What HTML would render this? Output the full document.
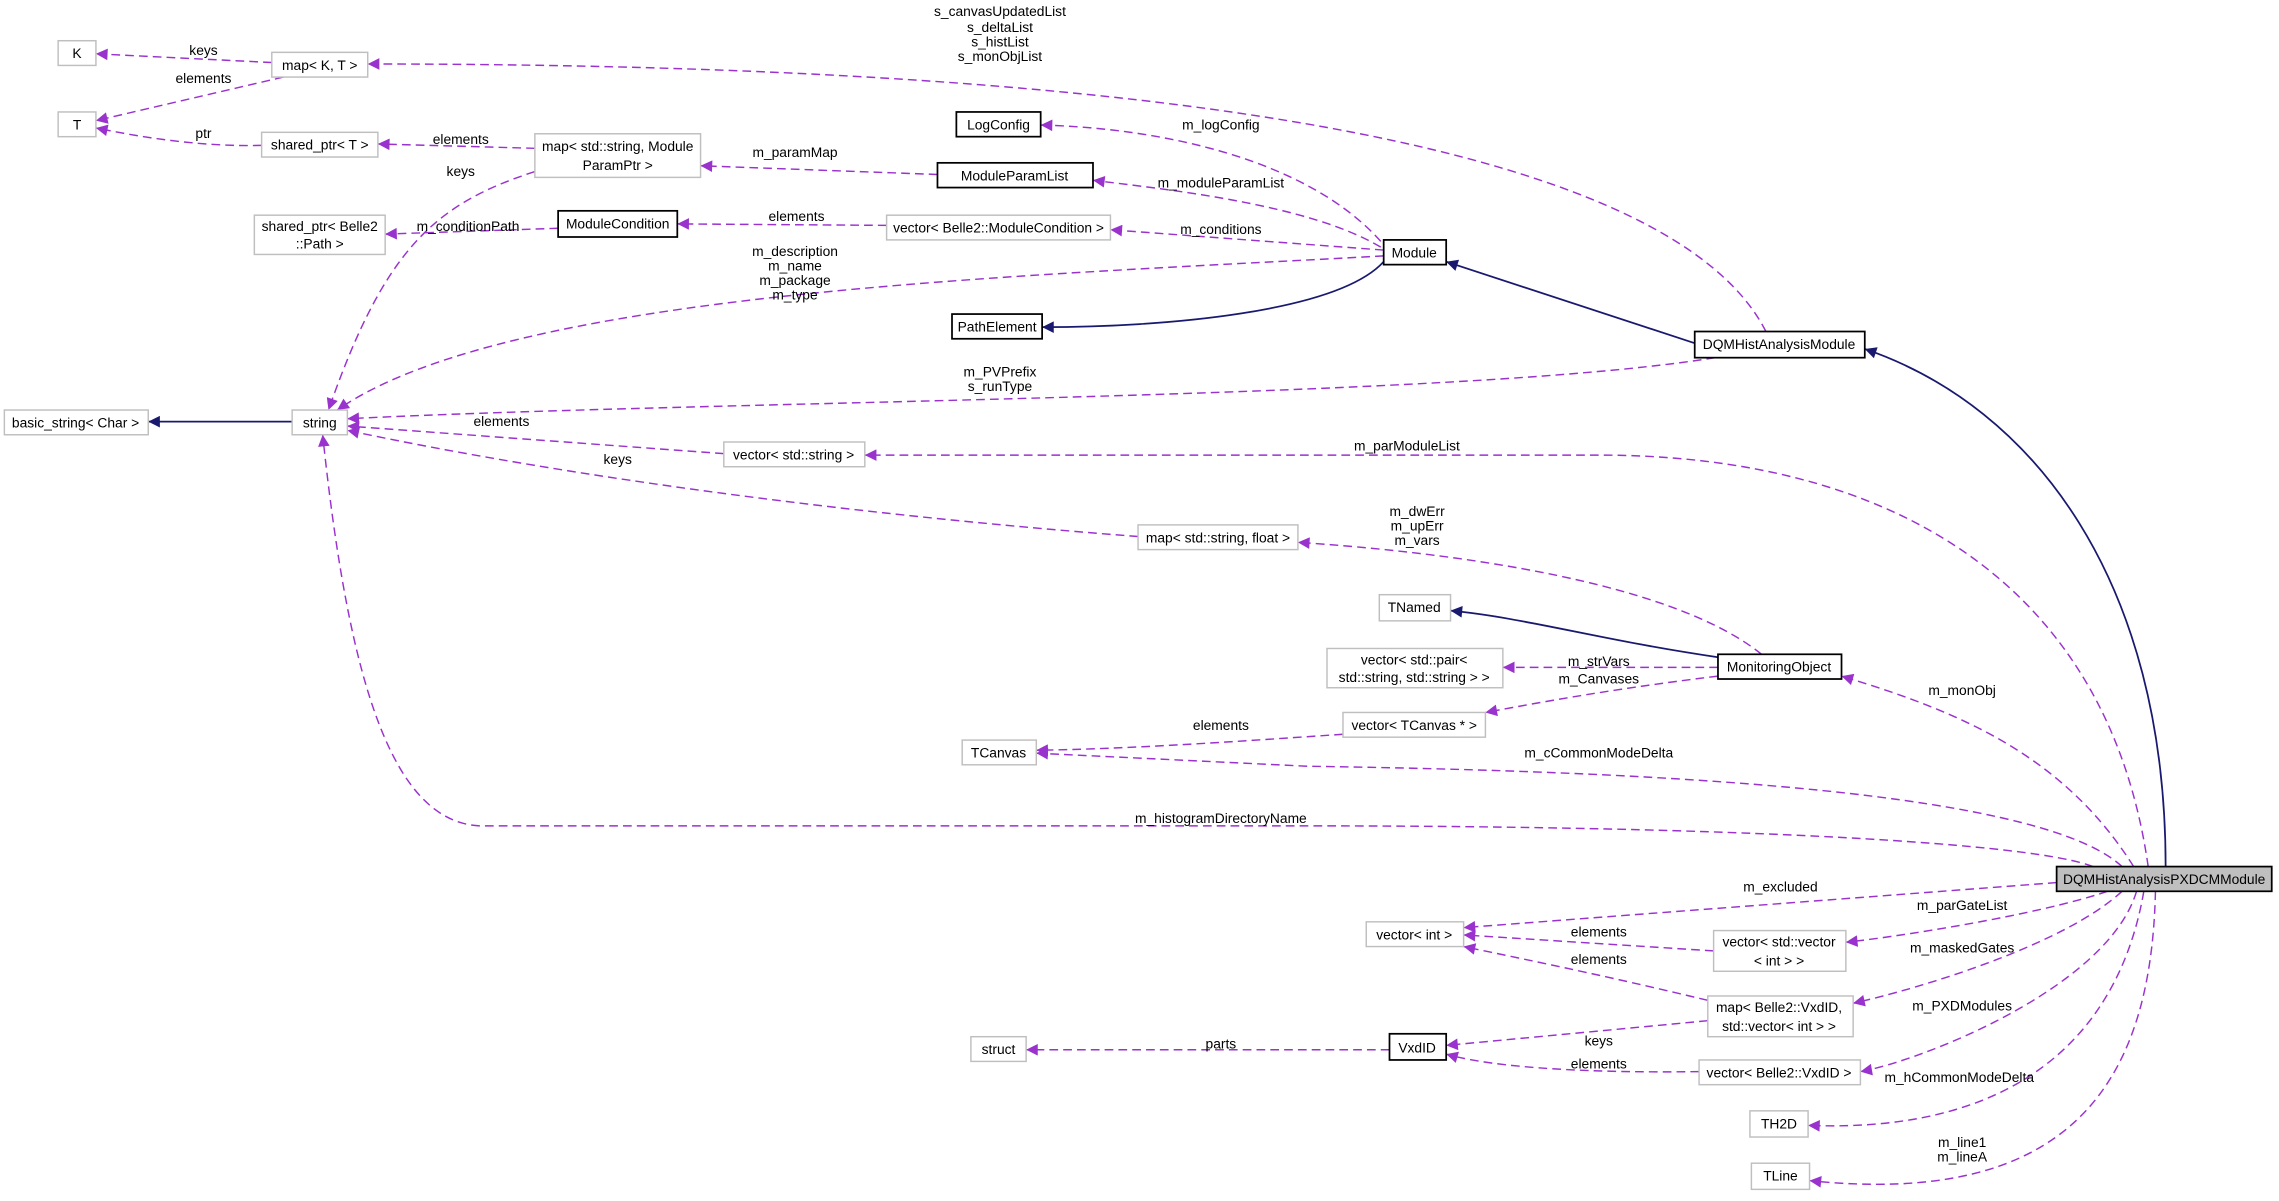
<!DOCTYPE html>
<html><head><meta charset="utf-8"><style>html,body{margin:0;padding:0;background:#fff}svg{display:block}</style></head>
<body>
<svg width="2279" height="1201" viewBox="0 0 1568 826" preserveAspectRatio="none" xmlns="http://www.w3.org/2000/svg" font-family="Liberation Sans, Helvetica, sans-serif" font-size="9.5">
<defs>
<marker id="p" viewBox="0 0 10 10" refX="10" refY="5" markerWidth="9" markerHeight="8" markerUnits="userSpaceOnUse" orient="auto"><path d="M0,0L10,5L0,10z" fill="#9a32cd"/></marker>
<marker id="n" viewBox="0 0 10 10" refX="10" refY="5" markerWidth="9" markerHeight="8" markerUnits="userSpaceOnUse" orient="auto"><path d="M0,0L10,5L0,10z" fill="#191970"/></marker>
</defs>
<g fill="none" stroke="#9a32cd" stroke-width="1" stroke-dasharray="6,3.5" marker-end="url(#p)">
<path d="M187,43 L66,37"/>
<path d="M195,53 L66,83"/>
<path d="M180,100 C140,101 100,95 66,88"/>
<path d="M368,102 L260,99"/>
<path d="M645,120 L482,114"/>
<path d="M1215,228 C1150,100 800,44 253,44"/>
<path d="M950,166 C900,110 800,88 716,86"/>
<path d="M950,170 C900,140 800,130 752,124"/>
<path d="M952,172 L764,158"/>
<path d="M610,155 L466,154"/>
<path d="M384,157 L265,161"/>
<path d="M368,118 C300,140 265,170 226,282"/>
<path d="M952,176 C700,190 350,200 232,282"/>
<path d="M1180,246 C1000,275 500,275 239,288"/>
<path d="M498,312 L239,293"/>
<path d="M783,369 C600,355 400,330 239,296"/>
<path d="M1478,596 C1450,400 1300,313 1100,313 L595,313"/>
<path d="M1212,450 C1150,400 1000,380 893,373"/>
<path d="M1182,459 L1034,459"/>
<path d="M1182,465 C1100,475 1050,485 1022,490"/>
<path d="M924,505 C850,510 780,515 713,516"/>
<path d="M1468,596 C1420,520 1350,490 1267,465"/>
<path d="M1460,596 C1400,540 1100,530 900,527 L713,518"/>
<path d="M1440,596 C1400,580 1200,568 900,568 L330,568 C270,565 240,470 222,299"/>
<path d="M1415,607 L1007,638"/>
<path d="M1450,613 C1400,630 1300,645 1270,648"/>
<path d="M1460,613 C1420,650 1320,680 1275,690"/>
<path d="M1470,613 C1450,680 1320,730 1280,737"/>
<path d="M1475,613 C1460,700 1400,780 1244,774"/>
<path d="M1483,613 C1480,750 1420,830 1245,812"/>
<path d="M1179,654 L1007,643"/>
<path d="M1175,688 C1100,670 1050,660 1007,651"/>
<path d="M1175,702 L995,719"/>
<path d="M1169,737 C1100,738 1030,735 995,725"/>
<path d="M956,722 L706,722"/>
</g>
<g fill="none" stroke="#191970" stroke-width="1.2" marker-end="url(#n)">
<path d="M1166,236 L995,180"/>
<path d="M952,180 C920,215 800,225 717,225"/>
<path d="M1490,596 C1490,400 1400,280 1283,240"/>
<path d="M201,290 L102,290"/>
<path d="M1182,452 C1100,440 1050,425 998,420"/>
</g>
<g fill="#fff" stroke="#bfbfbf" stroke-width="1">
<rect x="40" y="28" width="26" height="17"/>
<rect x="187" y="36" width="66" height="17"/>
<rect x="40" y="77" width="26" height="17"/>
<rect x="180" y="91" width="80" height="17"/>
<rect x="368" y="92" width="114" height="30"/>
<rect x="175" y="148" width="90" height="27"/>
<rect x="610" y="148" width="154" height="17"/>
<rect x="3" y="282" width="99" height="17"/>
<rect x="201" y="282" width="38" height="17"/>
<rect x="498" y="304" width="97" height="17"/>
<rect x="783" y="361" width="110" height="17"/>
<rect x="949" y="409" width="49" height="18"/>
<rect x="913" y="446" width="121" height="27"/>
<rect x="924" y="490" width="98" height="17"/>
<rect x="662" y="509" width="51" height="17"/>
<rect x="940" y="634" width="67" height="17"/>
<rect x="1179" y="640" width="91" height="28"/>
<rect x="1175" y="685" width="100" height="28"/>
<rect x="668" y="713" width="38" height="17"/>
<rect x="1169" y="729" width="111" height="17"/>
<rect x="1204" y="764" width="40" height="18"/>
<rect x="1205" y="800" width="40" height="18"/>
</g>
<g fill="#fff" stroke="#000" stroke-width="1.2">
<rect x="658" y="77" width="58" height="17"/>
<rect x="645" y="112" width="107" height="17"/>
<rect x="384" y="145" width="82" height="18"/>
<rect x="952" y="165" width="43" height="17"/>
<rect x="655" y="216" width="62" height="17"/>
<rect x="1166" y="228" width="117" height="18"/>
<rect x="1182" y="450" width="85" height="17"/>
<rect x="956" y="711" width="39" height="18"/>
<rect x="1415" y="596" width="148" height="17" fill="#bfbfbf"/>
</g>
<g fill="#000" text-anchor="middle">
<text x="53" y="40">K</text>
<text x="220" y="48">map&lt; K, T &gt;</text>
<text x="53" y="89">T</text>
<text x="220" y="103">shared_ptr&lt; T &gt;</text>
<text x="425" y="104">map&lt; std::string, Module</text>
<text x="425" y="117">ParamPtr &gt;</text>
<text x="687" y="89">LogConfig</text>
<text x="698" y="124">ModuleParamList</text>
<text x="425" y="157">ModuleCondition</text>
<text x="220" y="159">shared_ptr&lt; Belle2</text>
<text x="220" y="171">::Path &gt;</text>
<text x="687" y="160">vector&lt; Belle2::ModuleCondition &gt;</text>
<text x="973" y="177">Module</text>
<text x="686" y="228">PathElement</text>
<text x="1224" y="240">DQMHistAnalysisModule</text>
<text x="52" y="294">basic_string&lt; Char &gt;</text>
<text x="220" y="294">string</text>
<text x="546" y="316">vector&lt; std::string &gt;</text>
<text x="838" y="373">map&lt; std::string, float &gt;</text>
<text x="973" y="421">TNamed</text>
<text x="973" y="457">vector&lt; std::pair&lt;</text>
<text x="973" y="469">std::string, std::string &gt; &gt;</text>
<text x="1224" y="462">MonitoringObject</text>
<text x="973" y="502">vector&lt; TCanvas * &gt;</text>
<text x="687" y="521">TCanvas</text>
<text x="1489" y="608">DQMHistAnalysisPXDCMModule</text>
<text x="973" y="646">vector&lt; int &gt;</text>
<text x="1224" y="651">vector&lt; std::vector</text>
<text x="1224" y="664">&lt; int &gt; &gt;</text>
<text x="1224" y="696">map&lt; Belle2::VxdID,</text>
<text x="1224" y="709">std::vector&lt; int &gt; &gt;</text>
<text x="687" y="725">struct</text>
<text x="975" y="724">VxdID</text>
<text x="1224" y="741">vector&lt; Belle2::VxdID &gt;</text>
<text x="1224" y="776">TH2D</text>
<text x="1225" y="812">TLine</text>
</g>
<g fill="#000" text-anchor="middle">
<text x="140" y="38">keys</text>
<text x="140" y="57">elements</text>
<text x="140" y="95">ptr</text>
<text x="317" y="99">elements</text>
<text x="317" y="121">keys</text>
<text x="547" y="108">m_paramMap</text>
<text x="688" y="11">s_canvasUpdatedList</text>
<text x="688" y="22">s_deltaList</text>
<text x="688" y="32">s_histList</text>
<text x="688" y="42">s_monObjList</text>
<text x="840" y="89">m_logConfig</text>
<text x="840" y="129">m_moduleParamList</text>
<text x="840" y="161">m_conditions</text>
<text x="548" y="152">elements</text>
<text x="322" y="159">m_conditionPath</text>
<text x="547" y="176">m_description</text>
<text x="547" y="186">m_name</text>
<text x="547" y="196">m_package</text>
<text x="547" y="206">m_type</text>
<text x="688" y="259">m_PVPrefix</text>
<text x="688" y="269">s_runType</text>
<text x="345" y="293">elements</text>
<text x="425" y="319">keys</text>
<text x="968" y="310">m_parModuleList</text>
<text x="975" y="355">m_dwErr</text>
<text x="975" y="365">m_upErr</text>
<text x="975" y="375">m_vars</text>
<text x="1100" y="458">m_strVars</text>
<text x="1100" y="470">m_Canvases</text>
<text x="840" y="502">elements</text>
<text x="1350" y="478">m_monObj</text>
<text x="1100" y="521">m_cCommonModeDelta</text>
<text x="840" y="566">m_histogramDirectoryName</text>
<text x="1225" y="613">m_excluded</text>
<text x="1350" y="626">m_parGateList</text>
<text x="1100" y="644">elements</text>
<text x="1350" y="655">m_maskedGates</text>
<text x="1100" y="663">elements</text>
<text x="1350" y="695">m_PXDModules</text>
<text x="1100" y="719">keys</text>
<text x="1100" y="735">elements</text>
<text x="840" y="721">parts</text>
<text x="1348" y="744">m_hCommonModeDelta</text>
<text x="1350" y="789">m_line1</text>
<text x="1350" y="799">m_lineA</text>
</g>
</svg>
</body></html>
